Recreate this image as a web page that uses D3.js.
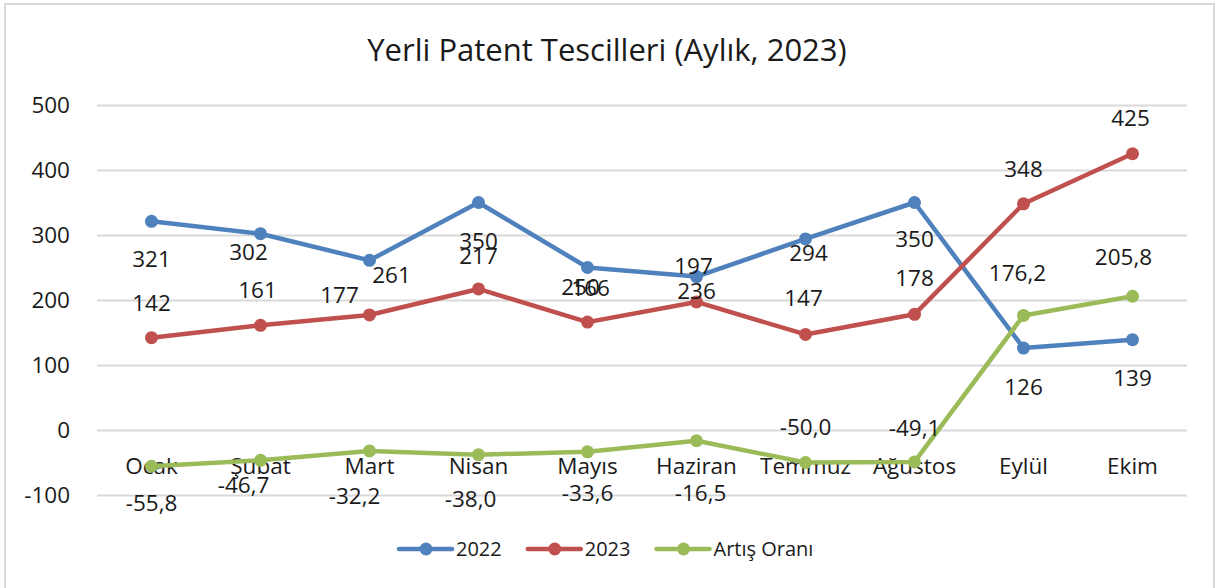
<!DOCTYPE html>
<html>
<head>
<meta charset="utf-8">
<script src="https://cdn.jsdelivr.net/npm/d3@7"></script>
<style>
  body { margin: 0; background: #fff; }
  svg { display: block; }
  text { font-family: "Open Sans", "Noto Sans", sans-serif; fill: #1a1a1a; }
</style>
</head>
<body>
<div id="chart-area"></div>
<script>
// data
const months = ["Ocak", "Şubat", "Mart", "Nisan", "Mayıs", "Haziran", "Temmuz", "Ağustos", "Eylül", "Ekim"]
const values2022 = [321, 302, 261, 350, 250, 236, 294, 350, 126, 139]
const values2023 = [142, 161, 177, 217, 166, 197, 147, 178, 348, 425]
const artisOrani = [-55.8, -46.7, -32.2, -38.0, -33.6, -16.5, -50.0, -49.1, 176.2, 205.8]
const yTicks = [-100, 0, 100, 200, 300, 400, 500]

// label text as it shows in the chart (Excel labels are shuffled a bit)
const labels2022 = ["321", "302", "261", "350", "250", "236", "294", "350", "126", "139"]
const labels2023 = ["142", "161", "177", "217", "166", "197", "147", "178", "348", "425"]
const labelsArtis = ["-55,8", "-46,7", "-32,2", "-38,0", "-33,6", "-16,5", "-50,0", "-49,1", "176,2", "205,8"]

// label offsets from the marker, px
const off2022 = [[0, 38], [-12, 18], [22, 15], [0, 39], [-7, 20], [0, 15], [3, 14], [0, 37], [0, 39], [0, 38]]
const off2023 = [[0, -35], [-3, -35], [-30, -20], [0, -33], [3, -34], [-3, -36], [-2, -36], [0, -36], [0, -35], [-2, -36]]
const offArtis = [[0, 37], [-17, 25], [-15, 45], [-8, 44], [0, 41], [4, 52], [0, -35], [0, -34], [-6, -42], [-9, -39]]

const totalWidth = 1226
const totalHeight = 588
const MARGIN = {LEFT: 97, RIGHT: 39, TOP: 105, BOTTOM: 93}
const WIDTH = totalWidth - MARGIN.LEFT - MARGIN.RIGHT
const HEIGHT = totalHeight - MARGIN.TOP - MARGIN.BOTTOM
const FONT = "22.5px"

const COLORS = {a: "#4F81BD", b: "#C0504D", c: "#9BBB59"}

const svg = d3.select("#chart-area")
    .append("svg")
    .attr("width", totalWidth)
    .attr("height", totalHeight)

// outer chart border
svg.append("rect")
    .attr("x", 5)
    .attr("y", 4)
    .attr("width", 1209)
    .attr("height", 600)
    .attr("fill", "#fff")
    .attr("stroke", "#d9d9d9")
    .attr("stroke-width", 2)

svg.append("text")
    .attr("x", 607)
    .attr("y", 61)
    .attr("text-anchor", "middle")
    .attr("font-size", "31px")
    .text("Yerli Patent Tescilleri (Aylık, 2023)")

const g = svg.append("g")
    .attr("transform", `translate(${MARGIN.LEFT}, ${MARGIN.TOP})`)

const xScale = d3.scaleBand()
    .domain(months)
    .range([0, WIDTH])
const yScale = d3.scaleLinear()
    .domain([-100, 500])
    .range([HEIGHT, 0])

const xc = d => xScale(d) + xScale.bandwidth() / 2

// gridlines
g.append("g")
    .attr("class", "grid")
    .call(d3.axisLeft(yScale).tickValues(yTicks).tickSize(-WIDTH).tickFormat(""))
    .call(s => s.select(".domain").remove())
    .selectAll("line")
    .attr("stroke", "#d9d9d9")
    .attr("stroke-width", 2)

// y tick labels (plain hyphen like Excel)
g.append("g")
    .attr("class", "y axis")
    .call(d3.axisLeft(yScale).tickValues(yTicks).tickSize(0).tickPadding(27).tickFormat(d => String(d)))
    .call(s => s.select(".domain").remove())
    .selectAll("text")
    .attr("font-size", FONT)
    .attr("font-family", null)
    .attr("fill", "#1a1a1a")

// category labels sit just under the zero line
const xAxis = g.append("g")
    .attr("class", "x axis")
    .attr("transform", `translate(0, ${yScale(0)})`)
    .call(d3.axisBottom(xScale).tickSize(0).tickPadding(28))
xAxis.select(".domain").remove()
xAxis.selectAll("text")
    .attr("font-size", FONT)
    .attr("font-family", null)
    .attr("fill", "#1a1a1a")

const line = d3.line()
    .x((d, i) => xc(months[i]))
    .y(d => yScale(d))

const series = [
    {name: "2022", values: values2022, labels: labels2022, off: off2022, color: COLORS.a},
    {name: "2023", values: values2023, labels: labels2023, off: off2023, color: COLORS.b},
    {name: "Artış Oranı", values: artisOrani, labels: labelsArtis, off: offArtis, color: COLORS.c}
]

series.forEach(s => {
    g.append("path")
        .attr("fill", "none")
        .attr("stroke", s.color)
        .attr("stroke-width", 4.5)
        .attr("stroke-linejoin", "round")
        .attr("d", line(s.values))

    g.selectAll(null)
        .data(s.values)
        .enter()
        .append("circle")
        .attr("cx", (d, i) => xc(months[i]))
        .attr("cy", d => yScale(d))
        .attr("r", 6.5)
        .attr("fill", s.color)
})

// data labels on top of everything, as in the original
series.forEach(s => {
    g.selectAll(null)
        .data(s.values)
        .enter()
        .append("text")
        .attr("x", (d, i) => xc(months[i]) + s.off[i][0])
        .attr("y", (d, i) => yScale(d) + s.off[i][1])
        .attr("dy", "0.35em")
        .attr("text-anchor", "middle")
        .attr("font-size", FONT)
        .text((d, i) => s.labels[i])
})

// legend
const legend = svg.append("g")
    .attr("transform", "translate(399, 549)")
let lx = 0
series.forEach(s => {
    const row = legend.append("g").attr("transform", `translate(${lx}, 0)`)
    row.append("line")
        .attr("x1", 0).attr("x2", 53)
        .attr("stroke", s.color)
        .attr("stroke-width", 4.5)
        .attr("stroke-linecap", "round")
    row.append("circle")
        .attr("cx", 27)
        .attr("r", 6.5)
        .attr("fill", s.color)
    const t = row.append("text")
        .attr("x", 57)
        .attr("dy", "0.35em")
        .attr("font-size", "20px")
        .text(s.name)
    lx += 57 + t.node().getComputedTextLength() + 26
})
</script>
</body>
</html>
